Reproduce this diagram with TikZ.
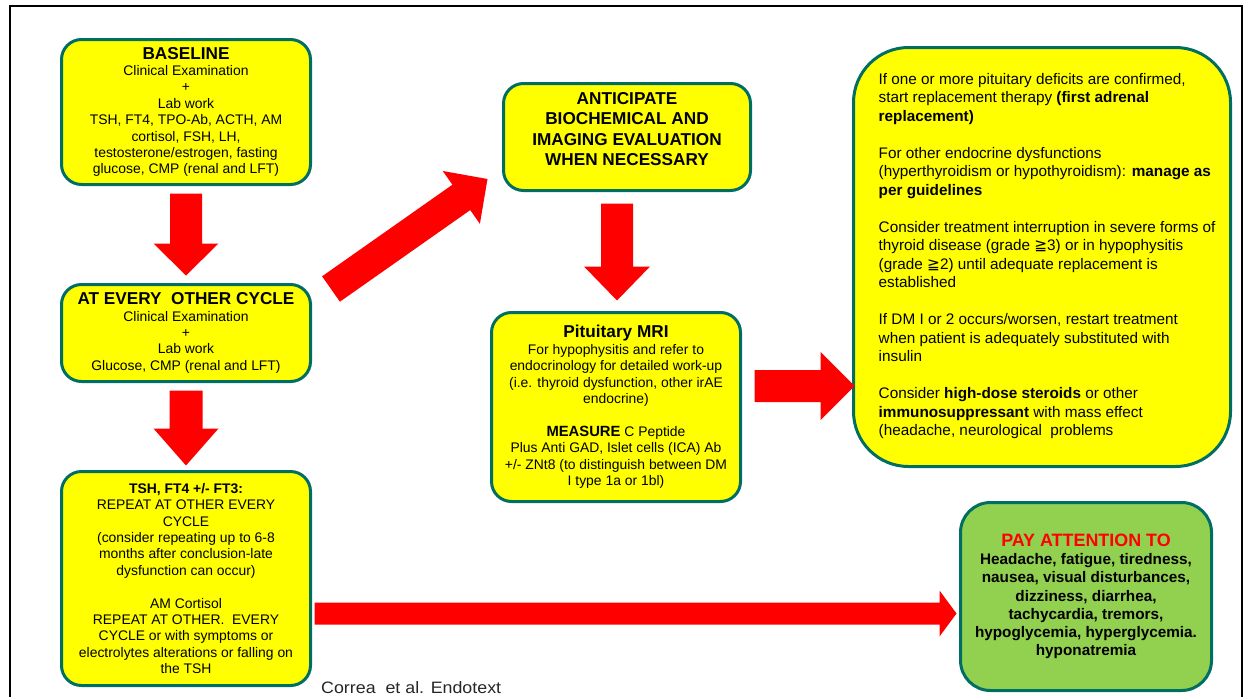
\documentclass[tikz,border=0pt]{standalone}
\usepackage{fontspec}
\setmainfont{Liberation Sans}
\newfontfamily\symf{DejaVu Sans}
\newfontfamily\citef[FakeStretch=1.08]{Liberation Sans}
\usetikzlibrary{calc}
\definecolor{boxyellow}{RGB}{255,255,0}
\definecolor{boxedge}{RGB}{0,110,98}
\definecolor{boxgreen}{RGB}{146,208,80}
\definecolor{arrowred}{RGB}{255,0,0}
% #1 start, #2 tip, #3 half shaft, #4 half head, #5 head length, #6 name
\newcommand\blockarrow[6]{%
  \coordinate (#6hb) at ($(#2)!#5!(#1)$);
  \fill[arrowred] ($(#1)!#3!90:(#2)$) -- ($(#6hb)!#3!90:(#2)$) -- ($(#6hb)!#4!90:(#2)$)
    -- (#2) -- ($(#6hb)!#4!-90:(#2)$) -- ($(#6hb)!#3!-90:(#2)$) -- ($(#1)!#3!-90:(#2)$) -- cycle;
}
\newcommand\ttl[1]{{\fontsize{17.2}{20}\selectfont\bfseries #1}}
\begin{document}
\begin{tikzpicture}[x=1pt,y=-1pt,
  box/.style={draw=boxedge, line width=3pt, fill=boxyellow, rounded corners=20pt,
    inner sep=0pt, align=center, font=\fontsize{13.9}{16.4}\selectfont},
  bigtext/.style={font=\fontsize{15.3}{18.5}\selectfont}]
\useasboundingbox (0,0) rectangle (1250,696);
% frame
\draw[line width=2.5pt] (10,700) -- (10,6) -- (1242,6) -- (1242,700);

% left column
\node[box, minimum width=249pt, minimum height=145pt] (base) at (186,112)
  {\ttl{BASELINE}\\Clinical Examination\\+\\Lab work\\TSH, FT4, TPO-Ab, ACTH, AM\\cortisol, FSH, LH,\\testosterone/estrogen, fasting\\glucose, CMP (renal and LFT)};
\node[box, minimum width=249pt, minimum height=97pt] (every) at (186,333)
  {\ttl{AT EVERY\ \ OTHER CYCLE}\\Clinical Examination\\+\\Lab work\\Glucose, CMP (renal and LFT)};
\node[box, minimum width=249pt, minimum height=214pt] (tsh) at (186,578.5)
  {\textbf{TSH, FT4 +/- FT3:}\\REPEAT AT OTHER EVERY\\CYCLE\\(consider repeating up to 6-8\\months after conclusion-late\\dysfunction can occur)\\[16.4pt]AM Cortisol\\REPEAT AT OTHER.\ \ EVERY\\CYCLE or with symptoms or\\electrolytes alterations or falling on\\the TSH};

% middle column
\node[box, minimum width=247pt, minimum height=107pt,
  font=\fontsize{17.2}{20.5}\selectfont\bfseries] (antic) at (627,137)
  {ANTICIPATE\\BIOCHEMICAL AND\\IMAGING EVALUATION\\WHEN NECESSARY\\[-4pt]\mbox{}};
\node[box, minimum width=249pt, minimum height=189pt] (mri) at (616,407)
  {\ttl{Pituitary MRI}\\For hypophysitis and refer to\\endocrinology for detailed work-up\\(i.e. thyroid dysfunction, other irAE\\endocrine)\\[16.4pt]{\fontsize{14.8}{16.4}\selectfont\bfseries MEASURE} C Peptide\\Plus Anti GAD, Islet cells (ICA) Ab\\+/- ZNt8 (to distinguish between DM\\I type 1a or 1bl)};

% right column
\node[box, minimum width=377pt, minimum height=419pt, rounded corners=55pt] (rbox) at (1042,257) {};
\node[bigtext, anchor=west, align=left, inner sep=0pt] (rtext) at ($(rbox.west)+(26.5,-1)$)
  {If one or more pituitary deficits are confirmed,\\
   start replacement therapy \textbf{(first adrenal}\\
   \textbf{replacement)}\\[18.5pt]
   For other endocrine dysfunctions\\
   (hyperthyroidism or hypothyroidism): \textbf{manage as}\\
   \textbf{per guidelines}\\[18.5pt]
   Consider treatment interruption in severe forms of\\
   thyroid disease (grade {\symf ≧}3) or in hypophysitis\\
   (grade {\symf ≧}2) until adequate replacement is\\
   established\\[18.5pt]
   If DM I or 2 occurs/worsen, restart treatment\\
   when patient is adequately substituted with\\
   insulin\\[18.5pt]
   Consider \textbf{high-dose steroids} or other\\
   \textbf{immunosuppressant} with mass effect\\
   (headache, neurological\ \ problems};
\node[box, fill=boxgreen, minimum width=251pt, minimum height=188pt, rounded corners=30pt,
  font=\fontsize{15.3}{18.2}\selectfont\bfseries] (green) at (1086,596.5)
  {{\fontsize{17.9}{20}\selectfont\color{arrowred}PAY ATTENTION TO}\\Headache, fatigue, tiredness,\\nausea, visual disturbances,\\dizziness, diarrhea,\\tachycardia, tremors,\\hypoglycemia, hyperglycemia.\\hyponatremia};

% arrows
\coordinate (a1s) at ($(base.south)+(0,7.5)$);
\coordinate (a1e) at ($(every.north)+(0,-7.5)$);
\blockarrow{a1s}{a1e}{16pt}{32.5pt}{32pt}{a1}
\coordinate (a2s) at ($(every.south)+(0,7.5)$);
\coordinate (a2e) at ($(tsh.north)+(0,-4.5)$);
\blockarrow{a2s}{a2e}{16.5pt}{32.5pt}{37pt}{a2}
\coordinate (a3s) at ($(every.east)+(19,-44)$);
\coordinate (a3e) at ($(antic.west)+(-14.5,42)$);
\blockarrow{a3s}{a3e}{15.5pt}{32.3pt}{32pt}{a3}
\coordinate (a4s) at ($(mri.north |- antic.south)+(1,11.5)$);
\coordinate (a4e) at ($(mri.north)+(1,-10.5)$);
\blockarrow{a4s}{a4e}{16pt}{33pt}{34pt}{a4}
\coordinate (a5s) at ($(mri.east)+(12.5,-21)$);
\coordinate (a5e) at ($(rbox.west |- a5s)+(2.5,0)$);
\blockarrow{a5s}{a5e}{16pt}{34pt}{34pt}{a5}
\coordinate (a6s) at ($(tsh.east)+(2.5,35)$);
\coordinate (a6e) at ($(green.west |- a6s)+(-2.5,0)$);
\blockarrow{a6s}{a6e}{11pt}{23pt}{17pt}{a6}

\node[anchor=west, inner sep=0pt, font=\citef\fontsize{16.5}{18}\selectfont, text=black!85] (cite) at (321,688) {Correa\ \ et al. Endotext};
\end{tikzpicture}
\end{document}
